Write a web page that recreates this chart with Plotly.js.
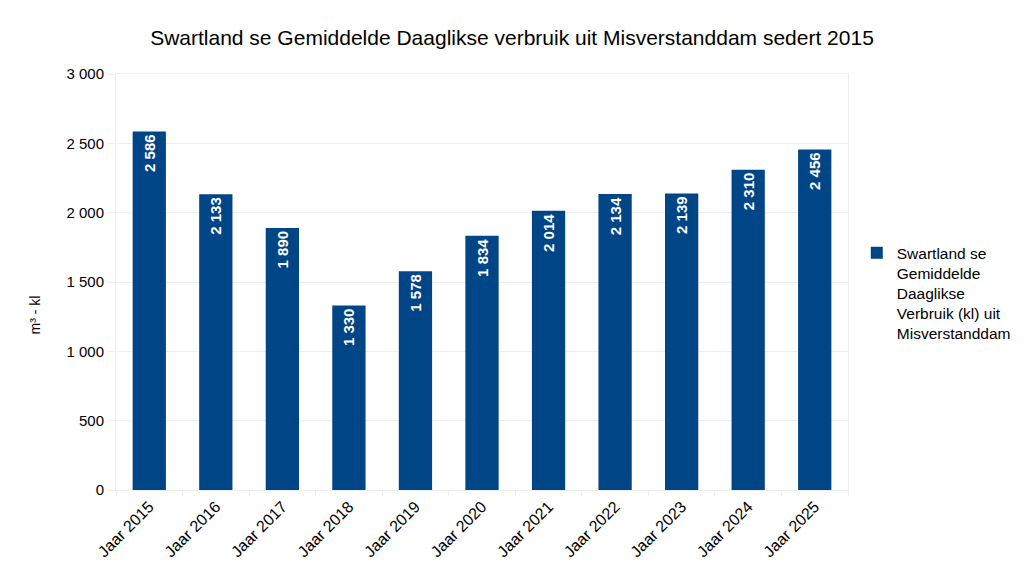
<!DOCTYPE html>
<html>
<head>
<meta charset="utf-8">
<script src="https://cdn.plot.ly/plotly-3.0.1.min.js"></script>
<style>
  html, body { margin: 0; padding: 0; background: #fff; }
  #chart { width: 1024px; height: 576px; }
</style>
</head>
<body>
<div id="chart"></div>
<script>
const YEARS = ['Jaar 2015', 'Jaar 2016', 'Jaar 2017', 'Jaar 2018', 'Jaar 2019', 'Jaar 2020',
  'Jaar 2021', 'Jaar 2022', 'Jaar 2023', 'Jaar 2024', 'Jaar 2025'];
const USAGE = [2586, 2133, 1890, 1330, 1578, 1834, 2014, 2134, 2139, 2310, 2456];
const SERIES_NAME = 'Swartland se<br>Gemiddelde<br>Daaglikse<br>Verbruik (kl) uit<br>Misverstanddam';
const Y_LABEL = 'm³ - kl';

const FONT = 'Liberation Sans, Arial, sans-serif';
const GRID = '#eeeeee';

// thousands with a space, like the source
function fmt(v) {
  return String(v).replace(/\B(?=(\d{3})+(?!\d))/g, ' ');
}

const trace = {
  type: 'bar',
  x: YEARS,
  y: USAGE,
  name: SERIES_NAME,
  text: USAGE.map(fmt),
  textposition: 'inside',
  insidetextanchor: 'end',
  textangle: -90,
  textfont: { family: FONT, size: 15, color: '#ffffff', weight: 'bold' },
  marker: { color: '#004586' },
  width: 0.5,
  hoverinfo: 'x+y'
};

const layout = {
  width: 1024,
  height: 576,
  margin: { l: 116, r: 176, t: 74, b: 86, autoexpand: false },
  paper_bgcolor: '#ffffff',
  plot_bgcolor: '#ffffff',
  separators: '. ',
  font: { family: FONT, color: '#000000' },
  showlegend: true,
  title: {
    text: 'Swartland se Gemiddelde Daaglikse verbruik uit Misverstanddam sedert 2015',
    font: { family: FONT, size: 21, color: '#000000' },
    x: 0.5, xref: 'container',
    y: 0.934, yref: 'container', yanchor: 'middle'
  },
  legend: {
    x: 1.012, xanchor: 'left',
    y: 0.61, yanchor: 'top',
    valign: 'top',
    font: { family: FONT, size: 15.5 },
    itemwidth: 30
  },
  xaxis: {
    type: 'category',
    tickangle: -45,
    tickfont: { family: FONT, size: 16 },
    showgrid: false,
    showline: true, mirror: true, linecolor: GRID,
    ticks: 'outside', tickson: 'boundaries', ticklen: 5, tickcolor: GRID
  },
  yaxis: {
    range: [0, 3000],
    dtick: 500,
    tickformat: ',',
    tickfont: { family: FONT, size: 15 },
    gridcolor: GRID,
    zeroline: false,
    showline: true, mirror: true, linecolor: GRID,
    ticks: 'outside', ticklen: 8, tickcolor: GRID
  },
  annotations: [{
    text: Y_LABEL,
    xref: 'paper', yref: 'paper',
    x: -0.124, y: 0.42,
    textangle: -90,
    showarrow: false,
    font: { family: FONT, size: 14 }
  }]
};

Plotly.newPlot('chart', [trace], layout, { staticPlot: true });
</script>
</body>
</html>
